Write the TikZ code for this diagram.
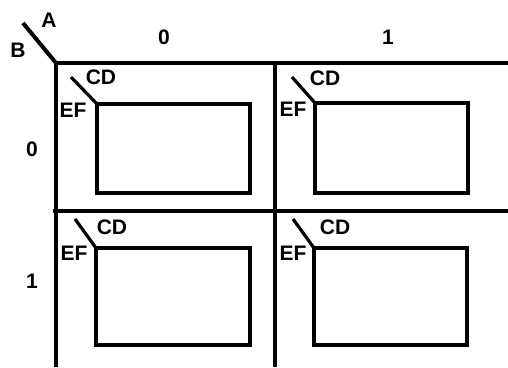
\documentclass[tikz,border=0pt]{standalone}
\usepackage{fontspec}
\setmainfont{Liberation Sans}
\begin{document}
\begin{tikzpicture}[x=1pt,y=-1pt,
  grid/.style={line width=4pt},
  inner/.style={line width=3.6pt,line cap=rect},
  lbl/.style={font=\fontsize{21}{21}\selectfont\bfseries,inner sep=0pt}]
\useasboundingbox (0,0) rectangle (508,367);
% main grid
\coordinate (tl) at (56,63);
\coordinate (tr) at (508,63);
\coordinate (bl) at (56,367);
\coordinate (mt) at (275,63);
\coordinate (mb) at (275,367);
\coordinate (ml) at (53,211);
\coordinate (mr) at (508,211);
\coordinate (ds) at (23,23);
\draw[grid] (tr) -- (tl) -- (bl);
\draw[grid] (mt) -- (mb);
\draw[grid] (ml) -- (mr);
\draw[grid] (ds) -- (tl);
\node[lbl] (A) at (49,20) {A};
\node[lbl] (B) at (18,50) {B};
\node[lbl] (c0) at (164,37) {0};
\node[lbl] (c1) at (388,37) {1};
\node[lbl] (r0) at (32,149) {0};
\node[lbl] (r1) at (32,281) {1};
% cells
\foreach \n/\rx/\ry/\ex/\ey/\sx/\sy/\cx/\cy/\fx/\fy in {
  a/97/104/250/193/71/77/101/77/73/110,
  b/315/103/468/193/292/77/325/78/293/109,
  c/96/248/250/345/75/219/112/227/74/253,
  d/314/248/467/345/293/219/335/227/293/253} {
  \coordinate (\n1) at (\rx,\ry);
  \coordinate (\n2) at (\ex,\ey);
  \coordinate (\n s) at (\sx,\sy);
  \draw[inner] (\n1) rectangle (\n2);
  \draw[line width=3.2pt] (\n s) -- (\n1);
  \node[lbl] (\n cd) at (\cx,\cy) {CD};
  \node[lbl] (\n ef) at (\fx,\fy) {EF};
}
\end{tikzpicture}
\end{document}
